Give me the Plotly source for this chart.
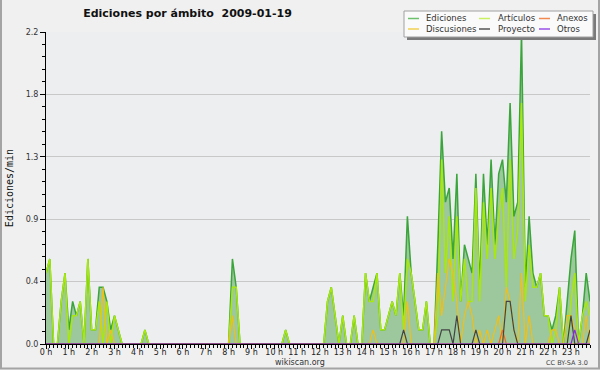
import plotly.graph_objects as go

# ---- data: 10-minute bins over the day (edits per minute) ----
minutes = list(range(0, 1440, 10))

ediciones = [
    0.5, 0.6, 0, 0, 0.3, 0.5,        # 0 h
    0.1, 0.3, 0.2, 0.3, 0, 0.6,      # 1 h
    0.1, 0.1, 0.4, 0.4, 0.3, 0.1,    # 2 h
    0.2, 0.1, 0, 0, 0, 0,            # 3 h
    0, 0, 0.1, 0, 0, 0,              # 4 h
    0, 0, 0, 0, 0, 0,                # 5 h
    0, 0, 0, 0, 0, 0,                # 6 h
    0, 0, 0, 0, 0, 0,                # 7 h
    0, 0.6, 0.4, 0, 0, 0,            # 8 h
    0, 0, 0, 0, 0, 0,                # 9 h
    0, 0, 0, 0.1, 0, 0,              # 10 h
    0, 0, 0, 0, 0, 0,                # 11 h
    0, 0, 0.3, 0.4, 0.2, 0,          # 12 h
    0.2, 0, 0, 0.2, 0, 0,            # 13 h
    0.5, 0.3, 0.4, 0.5, 0.1, 0.1,    # 14 h
    0.2, 0.3, 0.2, 0.5, 0.2, 0.9,    # 15 h
    0.5, 0.3, 0.1, 0.1, 0.3, 0,      # 16 h
    0, 0.7, 1.5, 1.0, 1.1, 0.6,      # 17 h
    1.2, 0.3, 0.7, 0.6, 0.5, 1.2,    # 18 h
    0.4, 1.2, 0.7, 1.3, 0.7, 1.2,    # 19 h
    1.3, 1.0, 1.7, 0.9, 1.0, 2.2,    # 20 h
    0.4, 0.9, 0.5, 0.4, 0.5, 0.2,    # 21 h
    0.2, 0.1, 0.2, 0.4, 0, 0.3,      # 22 h
    0.6, 0.8, 0, 0.2, 0.5, 0.3,      # 23 h
]

articulos = [
    0.5, 0.6, 0, 0, 0.3, 0.5,
    0, 0.2, 0.2, 0.3, 0, 0.6,
    0.1, 0.1, 0.3, 0, 0.3, 0,
    0.2, 0.1, 0, 0, 0, 0,
    0, 0, 0.1, 0, 0, 0,
    0, 0, 0, 0, 0, 0,
    0, 0, 0, 0, 0, 0,
    0, 0, 0, 0, 0, 0,
    0, 0.4, 0.4, 0, 0, 0,
    0, 0, 0, 0, 0, 0,
    0, 0, 0, 0.1, 0, 0,
    0, 0, 0, 0, 0, 0,
    0, 0, 0.3, 0.4, 0.2, 0,
    0.2, 0, 0, 0.2, 0, 0,
    0.5, 0.3, 0.3, 0.5, 0.1, 0.1,
    0.2, 0.3, 0.2, 0.5, 0.1, 0.6,
    0.5, 0.3, 0.1, 0.1, 0.3, 0,
    0, 0.2, 1.3, 0.5, 0.9, 0.3,
    0.9, 0.3, 0.6, 0.3, 0.3, 1.1,
    0.3, 1.0, 0.6, 1.1, 0.6, 0.9,
    1.1, 0.4, 1.3, 0.6, 0.8, 1.7,
    0.3, 0.7, 0.4, 0.4, 0.5, 0.2,
    0.2, 0, 0.1, 0.4, 0, 0,
    0.3, 0.5, 0, 0.2, 0.3, 0.2,
]

discusiones = [
    0, 0, 0, 0, 0, 0,
    0, 0, 0, 0, 0, 0,
    0, 0, 0, 0.4, 0, 0.1,
    0, 0, 0, 0, 0, 0,
    0, 0, 0, 0, 0, 0,
    0, 0, 0, 0, 0, 0,
    0, 0, 0, 0, 0, 0,
    0, 0, 0, 0, 0, 0,
    0, 0.2, 0, 0, 0, 0,
    0, 0, 0, 0, 0, 0,
    0, 0, 0, 0, 0, 0,
    0, 0, 0, 0, 0, 0,
    0, 0, 0, 0, 0, 0,
    0, 0, 0, 0, 0, 0,
    0, 0, 0.1, 0, 0, 0,
    0, 0, 0, 0, 0, 0.3,
    0, 0, 0, 0, 0, 0,
    0, 0.5, 0.2, 0.4, 0.6, 0.5,
    0.3, 0, 0.2, 0.3, 0.2, 0,
    0.1, 0, 0.1, 0, 0.1, 0.2,
    0, 0.4, 0.3, 0.1, 0, 0.5,
    0, 0.2, 0, 0, 0, 0,
    0, 0.1, 0.1, 0, 0, 0.2,
    0.2, 0.1, 0, 0, 0.2, 0,
]

proyecto = [
    0, 0, 0, 0, 0, 0,
    0, 0, 0, 0, 0, 0,
    0, 0, 0, 0, 0, 0,
    0, 0, 0, 0, 0, 0,
    0, 0, 0, 0, 0, 0,
    0, 0, 0, 0, 0, 0,
    0, 0, 0, 0, 0, 0,
    0, 0, 0, 0, 0, 0,
    0, 0, 0, 0, 0, 0,
    0, 0, 0, 0, 0, 0,
    0, 0, 0, 0, 0, 0,
    0, 0, 0, 0, 0, 0,
    0, 0, 0, 0, 0, 0,
    0, 0, 0, 0, 0, 0,
    0, 0, 0, 0, 0, 0,
    0, 0, 0, 0, 0.1, 0,
    0, 0, 0, 0, 0, 0,
    0, 0, 0.1, 0.1, 0.1, 0,
    0.2, 0, 0, 0, 0, 0.1,
    0, 0, 0, 0, 0, 0,
    0, 0.3, 0.3, 0.1, 0, 0,
    0, 0, 0, 0, 0, 0,
    0, 0, 0, 0, 0, 0,
    0.2, 0, 0, 0, 0, 0.1,
]

anexos = [0] * 120 + [0.1] + [0] * 23
otros = [0] * 139 + [0.1] + [0] * 4

series_names = ["Ediciones", "Artículos", "Anexos", "Discusiones", "Proyecto", "Otros"]
series_colors = ["#3aa53a", "#a8e80c", "#f06a28", "#f0c018", "#444444", "#8a2be2"]
legend_colors = ["#6cc06c", "#c8f060", "#f08a50", "#f0d050", "#555555", "#9a50e8"]

hours = [m / 60 for m in minutes]

# ---- geometry helpers (pixel -> paper) ----
W, H = 600, 370
L, R, T, B = 46, 10, 32, 26
PW = W - L - R
PH = H - T - B


def px(x):
    return (x - L) / PW


def py(y):
    return (H - B - y) / PH


fig = go.Figure()

fig.add_trace(go.Scatter(
    x=hours, y=ediciones, name=series_names[0], mode="lines",
    line=dict(color=series_colors[0], width=1.5),
    fill="tozeroy", fillcolor="#9dc79d", showlegend=False, hoverinfo="skip"))
fig.add_trace(go.Scatter(
    x=hours, y=articulos, name=series_names[1], mode="lines",
    line=dict(color=series_colors[1], width=1.5), showlegend=False, hoverinfo="skip"))
fig.add_trace(go.Scatter(
    x=hours, y=discusiones, name=series_names[3], mode="lines",
    line=dict(color=series_colors[3], width=1.2), showlegend=False, hoverinfo="skip"))
fig.add_trace(go.Scatter(
    x=hours, y=anexos, name=series_names[2], mode="lines",
    line=dict(color=series_colors[2], width=1.2), showlegend=False, hoverinfo="skip"))
fig.add_trace(go.Scatter(
    x=hours, y=proyecto, name=series_names[4], mode="lines",
    line=dict(color=series_colors[4], width=1.2), showlegend=False, hoverinfo="skip"))
fig.add_trace(go.Scatter(
    x=hours, y=otros, name=series_names[5], mode="lines",
    line=dict(color=series_colors[5], width=1.2), showlegend=False, hoverinfo="skip"))

ytick_vals = [0, 0.44, 0.88, 1.32, 1.76, 2.2]
ytick_text = ["0.0", "0.4", "0.9", "1.3", "1.8", "2.2"]

fig.update_layout(
    width=W, height=H,
    margin=dict(l=L, r=R, t=T, b=B, autoexpand=False),
    paper_bgcolor="#f0f0f0",
    plot_bgcolor="#edeef0",
    showlegend=False,
    title=dict(
        text="<b>Ediciones por ámbito\u00a0 2009-01-19</b>",
        x=187.5 / W, xref="container", xanchor="center",
        y=1 - 13 / H, yref="container", yanchor="middle",
        font=dict(family="DejaVu Sans", size=11, color="#111111")),
    xaxis=dict(
        range=[0, hours[-1]], tick0=0, dtick=1, ticksuffix=" h",
        showline=True, linecolor="black", linewidth=1,
        ticks="outside", ticklen=4, tickcolor="black", tickwidth=1,
        ticklabelstandoff=-4,
        tickfont=dict(family="DejaVu Sans", size=8, color="#222222"),
        showgrid=False, zeroline=False,
        minor=dict(dtick=1 / 6, tick0=0, ticks="outside", ticklen=3,
                   tickcolor="black", showgrid=False),
        fixedrange=True),
    yaxis=dict(
        range=[0, 2.2], tickmode="array", tickvals=ytick_vals, ticktext=ytick_text,
        showline=True, linecolor="black", linewidth=1,
        ticks="outside", ticklen=5, tickcolor="black",
        tickfont=dict(family="DejaVu Sans", size=8, color="#333333"),
        showgrid=True, gridcolor="#c8c8c8", gridwidth=1, zeroline=False,
        minor=dict(dtick=0.088, tick0=0, ticks="outside", ticklen=3,
                   tickcolor="black", showgrid=False),
        title=dict(text="Ediciones/min", standoff=10,
                   font=dict(family="DejaVu Sans Mono", size=10, color="#111111")),
        fixedrange=True),
)

shapes = []
annotations = []

# outer border of the image
border = "#a4a4a4"
shapes.append(dict(type="line", xref="paper", yref="paper",
                   x0=px(1), x1=px(1), y0=py(0), y1=py(369), line=dict(color=border, width=2)))
shapes.append(dict(type="line", xref="paper", yref="paper",
                   x0=px(0), x1=px(600), y0=py(368.5), y1=py(368.5), line=dict(color=border, width=2)))
shapes.append(dict(type="line", xref="paper", yref="paper",
                   x0=px(599), x1=px(599), y0=py(0), y1=py(369), line=dict(color=border, width=2)))

# legend box with shadow
shapes.append(dict(type="rect", xref="paper", yref="paper", layer="above",
                   x0=px(407), x1=px(596), y0=py(14), y1=py(40),
                   fillcolor="#7a7a7a", line=dict(width=0)))
shapes.append(dict(type="rect", xref="paper", yref="paper", layer="above",
                   x0=px(404), x1=px(593), y0=py(11), y1=py(37),
                   fillcolor="#fafafa", line=dict(color="#a0a0a0", width=1)))

col_line_x = [408, 479, 539]
col_text_x = [424, 496, 555]
row_y = [18.5, 29]
for k, (name, color) in enumerate(zip(series_names, legend_colors)):
    r, c = divmod(k, 3)
    shapes.append(dict(type="line", xref="paper", yref="paper", layer="above",
                       x0=px(col_line_x[c]), x1=px(col_line_x[c] + 11),
                       y0=py(row_y[r]), y1=py(row_y[r]),
                       line=dict(color=color, width=1.5)))
    annotations.append(dict(xref="paper", yref="paper", x=px(col_text_x[c]), y=py(row_y[r]),
                            text=name, showarrow=False, xanchor="left", yanchor="middle",
                            font=dict(family="DejaVu Sans", size=8.5, color="#333333")))

annotations.append(dict(xref="paper", yref="paper", x=px(300), y=py(362),
                        text="wikiscan.org", showarrow=False, xanchor="center", yanchor="middle",
                        font=dict(family="DejaVu Sans", size=8, color="#333333")))
annotations.append(dict(xref="paper", yref="paper", x=px(590), y=py(362.5),
                        text="CC BY-SA 3.0", showarrow=False, xanchor="right", yanchor="middle",
                        font=dict(family="DejaVu Sans", size=6.5, color="#444444")))

fig.update_layout(shapes=shapes, annotations=annotations)

fig.write_html(
    "out.html",
    config={"displayModeBar": False},
    post_script="document.body.style.margin='0';document.body.style.padding='0';"
                "document.body.style.overflow='hidden';",
)
